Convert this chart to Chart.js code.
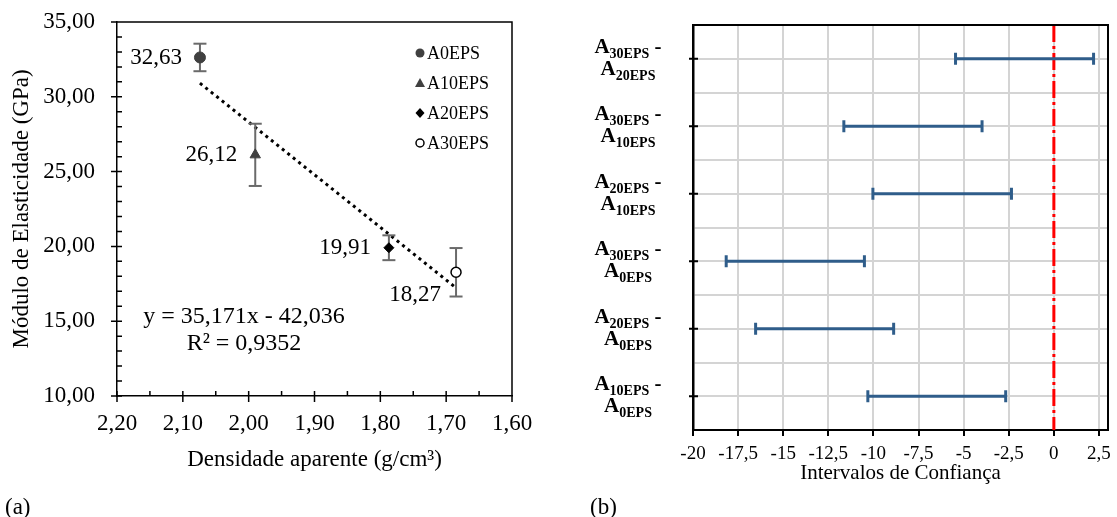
<!DOCTYPE html>
<html>
<head>
<meta charset="utf-8">
<script src="https://cdn.jsdelivr.net/npm/chart.js@4.4.1/dist/chart.umd.min.js"></script>
<style>
  body { margin: 0; background: #fff; width: 1117px; height: 517px; position: relative; overflow: hidden; font-family: 'Liberation Serif', serif; }
  #chartA { position: absolute; left: 0; top: 0; }
  #chartB { position: absolute; left: 560px; top: 0; }
  .tag { position: absolute; top: 495px; font-size: 23px; line-height: 1; color: #000; }
</style>
</head>
<body>
<canvas id="chartA" width="560" height="517"></canvas>
<canvas id="chartB" width="557" height="517"></canvas>
<div class="tag" style="left:5px">(a)</div>
<div class="tag" style="left:590px">(b)</div>
<script>
const FONT = "'Liberation Serif', 'Times New Roman', serif";
Chart.defaults.font.family = FONT;
Chart.defaults.color = '#000';

// (a) modulo de elasticidade x densidade
const series = ['A0EPS', 'A10EPS', 'A20EPS', 'A30EPS'];
const density = [2.074, 1.990, 1.787, 1.685];
const modulus = [32.63, 26.12, 19.91, 18.27];
const modulusErr = [0.92, 2.08, 0.83, 1.62];
const trendX = [2.074, 1.685];
const trendY = [30.91, 17.23];
const equation = ['y = 35,171x - 42,036', 'R² = 0,9352'];

// (b) intervalos de confianca
const pairs = ['A30EPS - A20EPS', 'A30EPS - A10EPS', 'A20EPS - A10EPS', 'A30EPS - A0EPS', 'A20EPS - A0EPS', 'A10EPS - A0EPS'];
const ciLow = [-5.45, -11.64, -10.03, -18.16, -16.53, -10.31];
const ciHigh = [2.20, -3.98, -2.35, -10.50, -8.88, -2.67];

const comma = (v, d) => Number(v).toFixed(d).replace('.', ',');

// ---------- chart (a) ----------
const markerStyles = [
  { pointStyle: 'circle', pointRadius: 5.5, pointBackgroundColor: '#404040', pointBorderColor: '#404040', pointBorderWidth: 1 },
  { pointStyle: 'triangle', pointRadius: 6, pointBackgroundColor: '#404040', pointBorderColor: '#404040', pointBorderWidth: 1 },
  { pointStyle: 'rectRot', pointRadius: 5, pointBackgroundColor: '#000', pointBorderColor: '#000', pointBorderWidth: 1 },
  { pointStyle: 'circle', pointRadius: 5, pointBackgroundColor: '#fff', pointBorderColor: '#000', pointBorderWidth: 1.5 }
];

const markerSets = series.map((s, i) => Object.assign({
  label: s,
  data: [{ x: density[i], y: modulus[i] }]
}, markerStyles[i]));

const errSets = series.map((s, i) => ({
  label: s + ' err',
  data: [{ x: density[i], y: modulus[i] - modulusErr[i] }, { x: density[i], y: modulus[i] + modulusErr[i] }],
  showLine: true,
  borderColor: '#6a6a6a',
  borderWidth: 2,
  pointStyle: 'line',
  pointRadius: 6.5,
  pointBorderColor: '#6a6a6a',
  pointBorderWidth: 2
}));

const trendSet = {
  label: 'trend',
  data: trendX.map((x, i) => ({ x: x, y: trendY[i] })),
  showLine: true,
  borderColor: '#000',
  borderWidth: 3,
  borderDash: [3, 4],
  pointRadius: 0
};

const frameA = {
  id: 'frameA',
  afterDraw(chart) {
    const { ctx, chartArea: { left, right, top, bottom }, scales: { x, y } } = chart;
    ctx.save();
    ctx.strokeStyle = '#000';
    ctx.lineWidth = 1.5;
    ctx.beginPath();
    ctx.moveTo(left, top); ctx.lineTo(right, top); ctx.lineTo(right, bottom);
    x.ticks.forEach((t, i) => {
      const px = x.getPixelForValue(t.value);
      ctx.moveTo(px, bottom - 5); ctx.lineTo(px, bottom + 6);
      if (i > 0) {
        const m = x.getPixelForValue((t.value + x.ticks[i - 1].value) / 2);
        ctx.moveTo(m, bottom); ctx.lineTo(m, bottom - 5);
      }
    });
    y.ticks.forEach((t, i) => {
      const py = y.getPixelForValue(t.value);
      ctx.moveTo(left - 6, py); ctx.lineTo(left + 5, py);
      if (i > 0) {
        const prev = y.ticks[i - 1].value;
        for (let k = 1; k < 5; k++) {
          const m = y.getPixelForValue(prev + k * (t.value - prev) / 5);
          ctx.moveTo(left, m); ctx.lineTo(left + 5, m);
        }
      }
    });
    ctx.stroke();
    ctx.restore();
  }
};

function drawMarker(ctx, kind, cx, cy) {
  ctx.beginPath();
  if (kind === 0) { ctx.arc(cx, cy, 4.5, 0, Math.PI * 2); ctx.fillStyle = '#404040'; ctx.fill(); }
  if (kind === 1) { ctx.moveTo(cx, cy - 5); ctx.lineTo(cx + 5, cy + 4); ctx.lineTo(cx - 5, cy + 4); ctx.closePath(); ctx.fillStyle = '#404040'; ctx.fill(); }
  if (kind === 2) { ctx.moveTo(cx, cy - 5); ctx.lineTo(cx + 4.5, cy); ctx.lineTo(cx, cy + 5); ctx.lineTo(cx - 4.5, cy); ctx.closePath(); ctx.fillStyle = '#000'; ctx.fill(); }
  if (kind === 3) { ctx.arc(cx, cy, 4, 0, Math.PI * 2); ctx.fillStyle = '#fff'; ctx.fill(); ctx.lineWidth = 1.5; ctx.strokeStyle = '#000'; ctx.stroke(); }
}

const labelsA = {
  id: 'labelsA',
  afterDatasetsDraw(chart) {
    const { ctx, chartArea: { left, right, top }, scales: { x, y } } = chart;
    ctx.save();
    ctx.fillStyle = '#000';
    ctx.font = '23px ' + FONT;
    ctx.textBaseline = 'middle';
    ctx.textAlign = 'right';
    modulus.forEach((v, i) => {
      const px = x.getPixelForValue(density[i]);
      const py = y.getPixelForValue(v);
      if (i === 3) ctx.fillText(comma(v, 2), px - 15, py + 23);
      else ctx.fillText(comma(v, 2), px - 18, py);
    });
    // equacao da reta
    ctx.textAlign = 'center';
    ctx.font = '24px ' + FONT;
    ctx.fillText(equation[0], left + 127, 317);
    ctx.fillText(equation[1], left + 127, 344);
    // legenda
    ctx.font = '18px ' + FONT;
    ctx.textAlign = 'left';
    series.forEach((s, i) => {
      const ly = top + 31 + i * 30;
      drawMarker(ctx, i, right - 92, ly);
      ctx.fillStyle = '#000';
      ctx.fillText(s, right - 85, ly + 1);
    });
    ctx.restore();
  }
};

new Chart(document.getElementById('chartA'), {
  type: 'scatter',
  data: { datasets: [...markerSets, ...errSets, trendSet] },
  options: {
    responsive: false,
    animation: false,
    devicePixelRatio: 1,
    layout: { padding: { left: 8, top: 22, right: 48, bottom: 43 } },
    plugins: { legend: { display: false }, tooltip: { enabled: false } },
    scales: {
      x: {
        type: 'linear', reverse: true, min: 1.6, max: 2.2,
        ticks: { stepSize: 0.1, padding: 14, font: { size: 23 }, callback: v => comma(v, 2) },
        grid: { display: false, drawTicks: false },
        border: { color: '#000', width: 1.5 },
        title: { display: true, text: 'Densidade aparente (g/cm³)', font: { size: 23 }, padding: 0 },
        afterFit: s => { s.height = 78; s.paddingLeft = 0; s.paddingRight = 0; }
      },
      y: {
        type: 'linear', min: 10, max: 35,
        ticks: { stepSize: 5, padding: 22, font: { size: 23 }, callback: v => comma(v, 2) },
        grid: { display: false, drawTicks: false },
        border: { color: '#000', width: 1.5 },
        title: { display: true, text: 'Módulo de Elasticidade (GPa)', font: { size: 23 }, padding: 0 },
        afterFit: s => { s.width = 109; s.paddingTop = 0; s.paddingBottom = 0; }
      }
    }
  },
  plugins: [frameA, labelsA]
});

// ---------- chart (b) ----------
const ciSets = pairs.map((p, i) => ({
  label: p,
  data: [{ x: ciLow[i], y: i + 1 }, { x: ciHigh[i], y: i + 1 }],
  showLine: true,
  borderColor: '#2f5d8a',
  borderWidth: 3,
  pointStyle: 'line',
  pointRadius: 6,
  pointRotation: 90,
  pointBorderColor: '#2f5d8a',
  pointBorderWidth: 3
}));

const zeroLine = {
  label: 'zero',
  data: [{ x: 0, y: 0.5 }, { x: 0, y: 6.5 }],
  showLine: true,
  borderColor: '#ff0000',
  borderWidth: 3,
  borderDash: [17, 4, 3, 4],
  pointRadius: 0
};

function drawParts(ctx, parts, cx, base) {
  let w = 0;
  parts.forEach(p => { ctx.font = 'bold ' + p.size + 'px ' + FONT; p.w = ctx.measureText(p.text).width; w += p.w; });
  let x0 = cx - w / 2;
  parts.forEach(p => {
    ctx.font = 'bold ' + p.size + 'px ' + FONT;
    ctx.fillText(p.text, x0, base + p.dy);
    x0 += p.w;
  });
}

const frameB = {
  id: 'frameB',
  afterDraw(chart) {
    const { ctx, chartArea: { left, right, top, bottom }, scales: { y } } = chart;
    ctx.save();
    ctx.strokeStyle = '#000';
    ctx.lineWidth = 2;
    ctx.beginPath();
    ctx.moveTo(left, top); ctx.lineTo(right, top); ctx.lineTo(right, bottom);
    pairs.forEach((p, i) => {
      const py = y.getPixelForValue(i + 1);
      ctx.moveTo(left - 4, py); ctx.lineTo(left + 5, py);
    });
    ctx.stroke();
    // rotulos das categorias com subscrito
    ctx.fillStyle = '#000';
    ctx.textAlign = 'left';
    ctx.textBaseline = 'alphabetic';
    pairs.forEach((p, i) => {
      const yc = y.getPixelForValue(i + 1);
      const [a, b] = p.split(' - ');
      drawParts(ctx, [
        { text: 'A', size: 21, dy: 0 },
        { text: a.slice(1), size: 14, dy: 5 },
        { text: ' -', size: 21, dy: 0 }
      ], 68, yc - 6);
      drawParts(ctx, [
        { text: 'A', size: 21, dy: 0 },
        { text: b.slice(1), size: 14, dy: 5 }
      ], 68, yc + 16);
    });
    ctx.restore();
  }
};

new Chart(document.getElementById('chartB'), {
  type: 'scatter',
  data: { datasets: [...ciSets, zeroLine] },
  options: {
    responsive: false,
    animation: false,
    devicePixelRatio: 1,
    layout: { padding: { left: 0, top: 25, right: 5, bottom: 31 } },
    plugins: { legend: { display: false }, tooltip: { enabled: false } },
    scales: {
      x: {
        type: 'linear', min: -20, max: 3,
        ticks: { stepSize: 2.5, includeBounds: false, padding: 7, font: { size: 19 }, callback: v => String(v).replace('.', ',') },
        grid: { color: '#d4d4d4', lineWidth: 2, tickLength: 6, tickColor: '#000' },
        border: { color: '#000', width: 2 },
        title: { display: true, text: 'Intervalos de Confiança', font: { size: 21 }, padding: 0 },
        afterFit: s => { s.height = 56; s.paddingLeft = 0; s.paddingRight = 0; }
      },
      y: {
        type: 'linear', reverse: true, min: 0.5, max: 6.5,
        ticks: { stepSize: 0.5, display: false },
        grid: { color: '#d4d4d4', lineWidth: 2, drawTicks: false },
        border: { color: '#000', width: 2.5 },
        afterFit: s => { s.width = 133; s.paddingTop = 0; s.paddingBottom = 0; }
      }
    }
  },
  plugins: [frameB]
});
</script>
</body>
</html>
